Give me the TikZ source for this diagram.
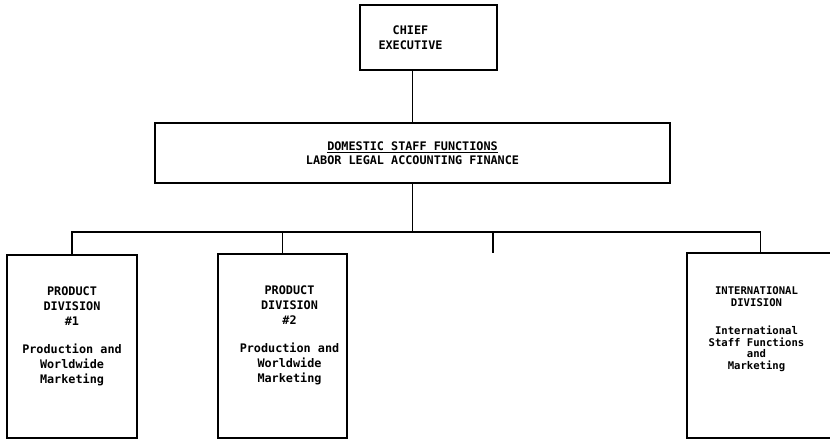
\documentclass[tikz,border=0pt]{standalone}
\usepackage{fontspec}
\newfontfamily\printfont{DejaVu Sans Mono}
\usetikzlibrary{positioning}

\begin{document}
\begin{tikzpicture}[
    x=1pt, y=-1pt,
    line width=1.3pt,
    every node/.style={inner sep=0pt, outer sep=0pt, align=center,
                       font=\printfont\bfseries\fontsize{11.8}{15}\selectfont},
    orgbox/.style={draw, line width=1.3pt},
    boxtext/.style={font=\printfont\bfseries\fontsize{11.8}{15}\selectfont},
    smalltext/.style={font=\printfont\bfseries\fontsize{10.6}{11.5}\selectfont}
  ]
  \fill[white] (0,0) rectangle (830,440);
  \useasboundingbox (0,0) rectangle (830,440);

  \node[orgbox, minimum width=137pt, minimum height=65pt] (chief) at (428.5,37.5) {};
  \node[boxtext, xshift=-18pt] (chieftxt) at (chief.center) {CHIEF\\EXECUTIVE};
  \node[orgbox, minimum width=515pt, minimum height=60pt,
        font=\printfont\bfseries\fontsize{11.8}{13.5}\selectfont] (dom) at (412.5,153)
    {\underline{DOMESTIC STAFF FUNCTIONS}\\LABOR LEGAL ACCOUNTING FINANCE};

  \node[orgbox, minimum width=130pt, minimum height=183pt] (pd1) at (72,346.5) {};
  \node[orgbox, minimum width=129pt, minimum height=184pt] (pd2) at (282.5,346) {};
  \node[orgbox, minimum width=147pt, minimum height=185pt] (intl) at (760.5,345.5) {};

  \node[boxtext, below=32pt of pd1.north] (pd1txt)
    {PRODUCT\\DIVISION\\\#1\\[13pt]Production and\\Worldwide\\Marketing};
  \node[boxtext, below=32pt of pd2.north, xshift=7pt] (pd2txt)
    {PRODUCT\\DIVISION\\\#2\\[13pt]Production and\\Worldwide\\Marketing};
  \node[smalltext, below=34pt of intl.north, xshift=-4pt] (intltxt)
    {INTERNATIONAL\\DIVISION\\[17pt]International\\Staff Functions\\and\\Marketing};

  \coordinate (bus) at (412.5,232);
  \coordinate (stub) at (493,253);

  \draw (chief.south -| dom.north) -- (dom.north);
  \draw (dom.south) -- (bus);
  \draw (pd1.north) |- (bus) -| (intl.north);
  \draw (pd2.north) -- (pd2.north |- bus);
  \draw (bus -| stub) -- (stub);
\end{tikzpicture}
\end{document}
